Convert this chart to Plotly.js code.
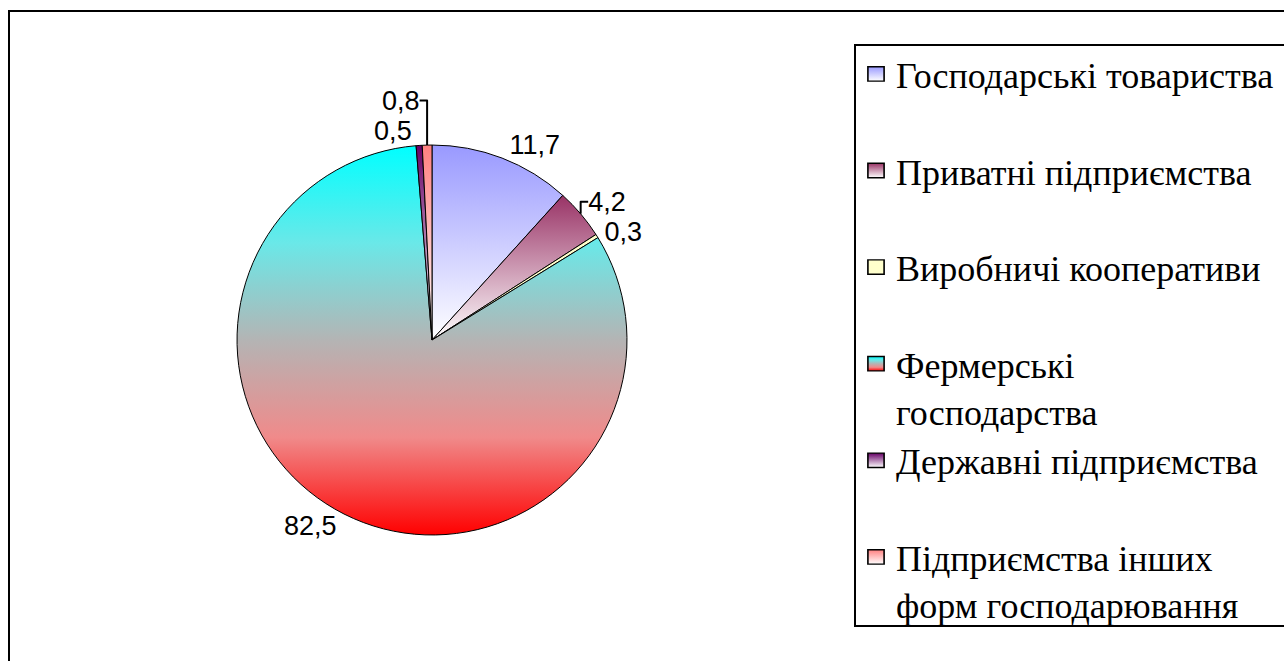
<!DOCTYPE html>
<html>
<head>
<meta charset="utf-8">
<script src="https://cdn.plot.ly/plotly-3.0.1.min.js"></script>
<style>
html,body{margin:0;padding:0;background:#fff;}
#chart{width:1284px;height:661px;}
</style>
</head>
<body>
<div id="chart"></div>
<script>
// Data
const categories = [
  "Господарські товариства",
  "Приватні підприємства",
  "Виробничі кооперативи",
  "Фермерські<br>господарства",
  "Державні підприємства",
  "Підприємства інших<br>форм господарювання"
];
const shares = [11.7, 4.2, 0.3, 82.5, 0.5, 0.8];
// gradient stops per slice (top -> bottom)
const sliceGradients = [
  ["#9999ff", "#ffffff"],
  ["#993366", "#ffffff"],
  ["#ffffcc", "#ffffcc"],
  ["#00ffff", "#6ae8e8", "#b4b4b4", "#f08a8a", "#ff0000"],
  ["#660066", "#ffffff"],
  ["#ff8080", "#ffffff"]
];

// pad one-line legend labels to two lines so every entry has the same height
const legendLabels = categories.map(c => c.indexOf("<br>") >= 0 ? c : c + "<br> ");

const trace = {
  type: "pie",
  labels: legendLabels,
  values: shares,
  sort: false,
  direction: "clockwise",
  rotation: 0,
  textinfo: "value",
  textposition: "outside",
  texttemplate: "%{value}",
  textfont: {family: "Liberation Sans", size: 27, color: "#000"},
  marker: {colors: sliceGradients.map(g => g[0]), line: {color: "#000", width: 1}},
  domain: {x: [0.1846, 0.4883], y: [0.1906, 0.7806]},
  hoverinfo: "label+value"
};

const layout = {
  width: 1284,
  height: 661,
  margin: {l: 0, r: 0, t: 0, b: 0},
  paper_bgcolor: "#fff",
  separators: ",.",
  showlegend: true,
  legend: {
    x: 856/1284, y: 1 - 44/661, xanchor: "left", yanchor: "top",
    valign: "top",
    bgcolor: "rgba(0,0,0,0)",
    borderwidth: 0,
    font: {family: "'Liberation Serif', 'DejaVu Serif', serif", size: 36, color: "#000"}
  },
  shapes: [
    {type: "rect", xref: "paper", yref: "paper", x0: 9/1284, x1: 1.05, y0: -0.05, y1: 1 - 11/661,
     line: {color: "#000", width: 2}, fillcolor: "rgba(0,0,0,0)", layer: "below"},
    {type: "rect", xref: "paper", yref: "paper", x0: 855/1284, x1: 1.05, y0: 1 - 626/661, y1: 1 - 45/661,
     line: {color: "#000", width: 2}, fillcolor: "rgba(0,0,0,0)", layer: "below"}
  ]
};

function applyGradients(gd) {
  const svg = gd.querySelector(".main-svg");
  if (!svg) return;
  const NS = "http://www.w3.org/2000/svg";
  let defs = svg.querySelector("defs#sliceGrads");
  if (!defs) {
    defs = document.createElementNS(NS, "defs");
    defs.setAttribute("id", "sliceGrads");
    sliceGradients.forEach((stops, i) => {
      const g = document.createElementNS(NS, "linearGradient");
      g.setAttribute("id", "sg" + i);
      g.setAttribute("x1", "0"); g.setAttribute("y1", "0");
      g.setAttribute("x2", "0"); g.setAttribute("y2", "1");
      stops.forEach((c, k) => {
        const s = document.createElementNS(NS, "stop");
        s.setAttribute("offset", String(k / (stops.length - 1)));
        s.setAttribute("stop-color", c);
        g.appendChild(s);
      });
      defs.appendChild(g);
    });
    svg.insertBefore(defs, svg.firstChild);
  }
  gd.querySelectorAll(".slice").forEach((s, i) => {
    const p = s.querySelector("path.surface");
    if (p) p.style.fill = "url(#sg" + i + ")";
  });
  gd.querySelectorAll(".legend .traces").forEach((t, i) => {
    const p = t.querySelector(".legendpoints path");
    if (p && !p.dataset.done) {
      p.dataset.done = "1";
      p.style.fill = "url(#sg" + i + ")";
      const tr = p.getAttribute("transform") || "";
      p.setAttribute("transform", tr + " scale(1.35,1.2)");
      p.style.stroke = "#000";
      p.style.strokeWidth = "1.2px";
    }
  });
}

const gd = document.getElementById("chart");
Plotly.newPlot(gd, [trace], layout, {displayModeBar: false, staticPlot: true}).then(() => {
  applyGradients(gd);
  gd.on && gd.on("plotly_afterplot", () => applyGradients(gd));
});
</script>
</body>
</html>
